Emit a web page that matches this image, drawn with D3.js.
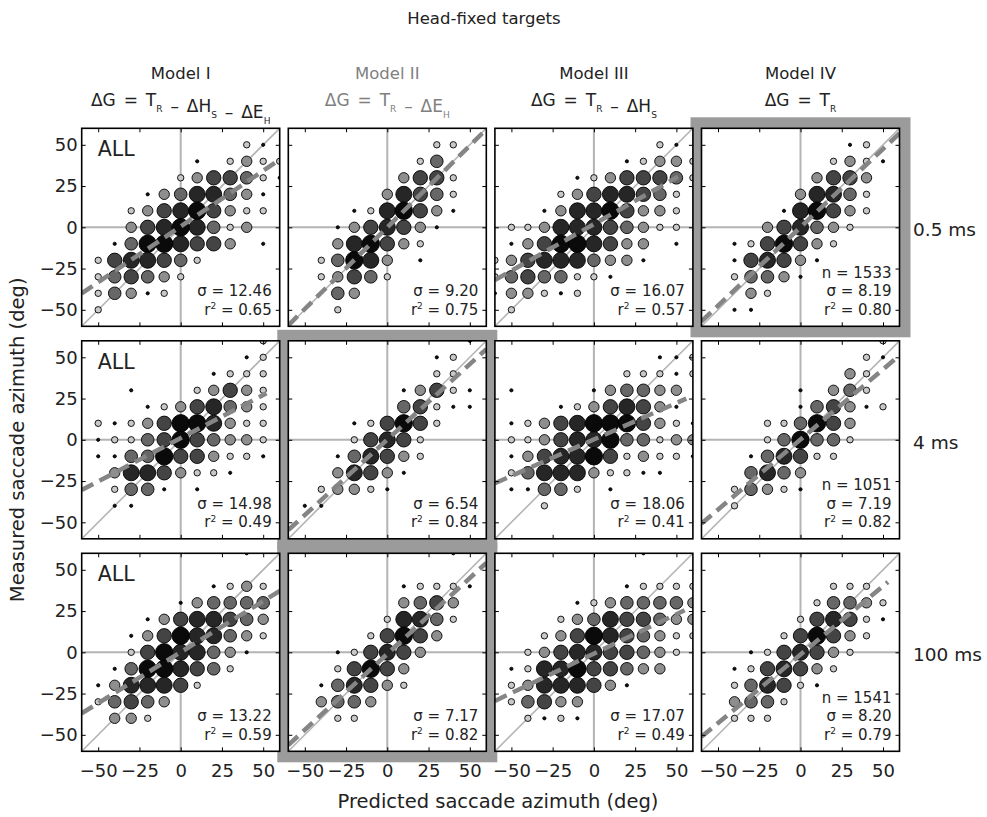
<!DOCTYPE html>
<html>
<head>
<meta charset="utf-8">
<script src="https://cdn.jsdelivr.net/npm/d3@7"></script>
<style>
  html, body { margin: 0; padding: 0; background: #fff; }
  svg { display: block; font-family: "DejaVu Sans", sans-serif; }
</style>
</head>
<body>
<svg id="chart" width="987" height="817"></svg>
<script>
// ---- data -------------------------------------------------------------
const modelNames = ["Model I", "Model II", "Model III", "Model IV"];
const delayLabels = ["0.5 ms", "4 ms", "100 ms"];
const tickValues = [-50, -25, 0, 25, 50];

const sigmaValues = [
  [12.46, 9.20, 16.07, 8.19],
  [14.98, 6.54, 18.06, 7.19],
  [13.22, 7.17, 17.07, 8.20]
];
const r2Values = [
  [0.65, 0.75, 0.57, 0.80],
  [0.49, 0.84, 0.41, 0.82],
  [0.59, 0.82, 0.49, 0.79]
];
const nValues = [1533, 1051, 1541];   // Model IV panels only

// regression fit (dashed): slope, intercept, x-range end
const fitSlopes = [
  [0.675, 0.99, 0.564, 0.95],
  [0.523, 0.914, 0.442, 0.85],
  [0.618, 0.92, 0.478, 0.83]
];
const fitIntercepts = [
  [0.5, 0.0, 1.9, 0.0],
  [1.0, 0.1, 0.2, 0.2],
  [0.1, -1.0, -0.8, -1.4]
];
const fitXEnd = [
  [60, 60, 51, 60],
  [52, 60, 56, 60],
  [60, 60, 55, 53]
];

// highlighted (best model) panels: [row, col]
const bestPanels = [[0, 3], [1, 1], [2, 1]];

// binned response density, 10 deg bins; rows are measured 60 .. -60,
// columns are predicted -60 .. 60; digit = density level (1 low .. 7 high)
const binCenters = d3.range(-60, 61, 10);

const density05 = [
  [ // Model I
    ".............", "..........21.", ".......1.2322", "......2355421",
    "....13466431.", "...235675322.", "...35676423..", "..14776553.1.",
    ".2566542.....", ".245432......", ".24312.......", ".2...........",
    "............."
  ],
  [ // Model II
    ".............", ".........22..", "........24...", ".......3552..",
    "......36542..", "....1267531..", "...1356531...", "...367532....",
    "..24763.1....", "..23542......", "...43........", "...2.........",
    "............."
  ],
  [ // Model III
    ".............", "..........21.", "........12332", ".....12355542",
    "....23566542.", "...136675332.", ".22366654322.", ".135776533.1.",
    "2356664331...", "24544221.....", "133212.......", ".2...........",
    "............."
  ],
  [ // Model IV
    ".............", ".........12..", "........2321.", ".......3553..",
    "......36642..", ".....167532..", "....356432...", "..1257532....",
    "..156531.....", "..24431......", "...32........", "..11.........",
    "............."
  ]
];

const density4 = [
  [
    "...........2.", "..........12.", "........1222.", "...1...23532.",
    "....12356432.", ".21235776322.", ".12245754332.", ".11447553221.",
    "..36653221...", "..2441.1.....", "..11.........", ".............",
    "............."
  ],
  [
    "...........1.", ".........12..", ".........22..", ".......13521.",
    ".......45211.", "....125752...", "....25652....", "...146532....",
    "...36531.....", "..23321......", ".11..........", ".............",
    "............."
  ],
  [
    ".............", "..........112", "........22212", ".1....134433.",
    "....12356531.", ".123567775321", ".223566744233", ".135667523221",
    ".2466632211..", ".11442.1.....", "...2.........", ".............",
    "............."
  ],
  [
    "...........2.", "..........21.", ".........32..", "......1.342..",
    "......145312.", "....224753...", "....247442...", "...146522....",
    "...4643......", "..24321......", "..2..........", ".............",
    "............."
  ]
];

const density100 = [
  [
    "..........1..", ".............", "........1232.", "......134444.",
    "....13566543.", "...135766432.", "...25766431..", "..14776542...",
    ".1366652.....", ".24543.......", "..332........", ".............",
    "............."
  ],
  [
    "..........1..", ".............", ".......12221.", ".......3453..",
    "......26642..", ".....25753...", "...125653....", "...25753.....",
    "..146532.....", "..3443.......", "...22........", ".............",
    "............."
  ],
  [
    ".........1...", ".............", "........12222", ".....12344443",
    "....234655433", "...2357654322", "..2356655432.", ".1266755433..",
    ".23666531....", ".24533.......", "..2121.......", ".............",
    "............."
  ],
  [
    ".............", ".............", "........222..", ".......24432.",
    "......256521.", ".....257532..", "...1256532...", "..1256532....",
    "..246521.....", "..3442.......", "..222........", ".............",
    "............."
  ]
];

const densityByDelay = [density05, density4, density100];

// ---- layout -----------------------------------------------------------
const svg = d3.select("#chart");
const panelW = 198, panelH = 198;
const left0 = 81.7, colStep = 206.6;
const top0 = 128.3, rowStep = 212.5;
const FONT = "'DejaVu Sans', sans-serif";
const INK = "#222";

const x = d3.scaleLinear().domain([-60, 60]).range([0, panelW]);
const y = d3.scaleLinear().domain([-60, 60]).range([panelH, 0]);

const levels = [1, 2, 3, 4, 5, 6, 7];
const radius = d3.scaleLinear().domain(levels).range([1.6, 3.2, 5.2, 6.3, 7.2, 8.0, 8.7]);
const shade = d3.scaleLinear().domain(levels)
  .range(["#111", "#c8c8c8", "#8e8e8e", "#676767", "#444", "#262626", "#0a0a0a"]);

// highlight frames go underneath the panels
bestPanels.forEach(([r, c]) => {
  const px = left0 + c * colStep, py = top0 + r * rowStep;
  svg.append("rect")
    .attr("x", px - 5.5).attr("y", py - 5.5)
    .attr("width", panelW + 11).attr("height", panelH + 11)
    .attr("fill", "none").attr("stroke", "#9b9b9b").attr("stroke-width", 11);
});

const defs = svg.append("defs");
defs.append("clipPath").attr("id", "panel-clip")
  .append("rect").attr("width", panelW).attr("height", panelH);

for (let r = 0; r < 3; r++) {
  for (let c = 0; c < 4; c++) {
    const g = svg.append("g")
      .attr("transform", `translate(${left0 + c * colStep},${top0 + r * rowStep})`);

    g.append("rect").attr("width", panelW).attr("height", panelH).attr("fill", "#fff");

    const inner = g.append("g").attr("clip-path", "url(#panel-clip)");

    // zero lines and unity line
    inner.append("line")
      .attr("x1", x(0)).attr("x2", x(0)).attr("y1", 0).attr("y2", panelH)
      .attr("stroke", "#b4b4b4").attr("stroke-width", 2);
    inner.append("line")
      .attr("x1", 0).attr("x2", panelW).attr("y1", y(0)).attr("y2", y(0))
      .attr("stroke", "#b4b4b4").attr("stroke-width", 2);
    inner.append("line")
      .attr("x1", x(-60)).attr("y1", y(-60)).attr("x2", x(60)).attr("y2", y(60))
      .attr("stroke", "#b4b4b4").attr("stroke-width", 1.6);

    // bubbles
    const grid = densityByDelay[r][c];
    const cells = [];
    grid.forEach((row, i) => {
      const yv = binCenters[binCenters.length - 1 - i];
      row.split("").forEach((ch, j) => {
        if (ch !== ".") cells.push({ px: binCenters[j], py: yv, level: +ch });
      });
    });
    inner.selectAll("circle").data(cells).join("circle")
      .attr("cx", d => x(d.px)).attr("cy", d => y(d.py))
      .attr("r", d => radius(d.level))
      .attr("fill", d => shade(d.level))
      .attr("stroke", "#000").attr("stroke-width", 0.9);

    // regression fit
    const s = fitSlopes[r][c], b = fitIntercepts[r][c];
    const fx = [-60, fitXEnd[r][c]];
    inner.append("line")
      .attr("x1", x(fx[0])).attr("y1", y(s * fx[0] + b))
      .attr("x2", x(fx[1])).attr("y2", y(s * fx[1] + b))
      .attr("stroke", "#858585").attr("stroke-width", 4.5)
      .attr("stroke-dasharray", "13,7");

    // inward ticks on all four sides
    const axes = [
      d3.axisLeft(y).tickSizeInner(-4),
      d3.axisRight(y).tickSizeInner(-4),
      d3.axisBottom(x).tickSizeInner(-4),
      d3.axisTop(x).tickSizeInner(-4)
    ];
    const offs = ["translate(0,0)", `translate(${panelW},0)`, `translate(0,${panelH})`, "translate(0,0)"];
    axes.forEach((ax, k) => {
      const showLabels = (k === 0 && c === 0) || (k === 2 && r === 2);
      const pad = k === 2 ? 13 : 4;
      ax.tickValues(tickValues).tickSizeOuter(0).tickPadding(showLabels ? pad : 0)
        .tickFormat(showLabels ? d3.format("d") : "");
      const ag = g.append("g").attr("transform", offs[k]).call(ax);
      ag.select(".domain").remove();
      ag.selectAll("line").attr("stroke", "#000").attr("stroke-width", 1);
      ag.selectAll("text").attr("font-family", FONT).attr("font-size", 18).attr("fill", INK);
    });

    // frame
    g.append("rect").attr("width", panelW).attr("height", panelH)
      .attr("fill", "none").attr("stroke", "#000").attr("stroke-width", 1.6);

    // statistics
    const stats = [];
    if (c === 3) stats.push(`n = ${nValues[r]}`);
    stats.push(`σ = ${sigmaValues[r][c].toFixed(2)}`);
    stats.push("r2");
    const lineH = 18.6;
    stats.forEach((t, k) => {
      const yy = panelH - 11.5 - (stats.length - 1 - k) * lineH;
      const tx = g.append("text").attr("x", panelW - 8).attr("y", yy)
        .attr("text-anchor", "end").attr("font-family", FONT)
        .attr("font-size", 15).attr("fill", INK);
      if (t === "r2") {
        tx.append("tspan").text("r");
        tx.append("tspan").text("2").attr("font-size", 9).attr("dy", -5.5);
        tx.append("tspan").text(` = ${r2Values[r][c].toFixed(2)}`).attr("dy", 5.5);
      } else {
        tx.text(t);
      }
    });

    if (c === 0) {
      g.append("text").attr("x", 16).attr("y", 28)
        .attr("font-family", FONT).attr("font-size", 20.5).attr("fill", INK)
        .text("ALL");
    }
  }
}

// ---- headers ----------------------------------------------------------
svg.append("text").attr("x", 484).attr("y", 24).attr("text-anchor", "middle")
  .attr("font-family", FONT).attr("font-size", 16.5).attr("fill", INK)
  .text("Head-fixed targets");

// formula pieces: [text, subscript]
const formulas = [
  [["ΔG = T", "R"], [" – ΔH", "S"], [" – ΔE", "H"]],
  [["ΔG = T", "R"], [" – ΔE", "H"]],
  [["ΔG = T", "R"], [" – ΔH", "S"]],
  [["ΔG = T", "R"]]
];
const headerColors = [INK, "#808080", INK, INK];

modelNames.forEach((name, c) => {
  const cx = left0 + c * colStep + panelW / 2;
  svg.append("text").attr("x", cx).attr("y", 79).attr("text-anchor", "middle")
    .attr("font-family", FONT).attr("font-size", 16.5).attr("fill", headerColors[c])
    .text(name);
  const t = svg.append("text").attr("x", cx).attr("y", 106).attr("text-anchor", "middle")
    .attr("font-family", FONT).attr("font-size", 17).attr("fill", headerColors[c])
    .attr("word-spacing", 2.5);
  formulas[c].forEach(([main, sub]) => {
    t.append("tspan").text(main);
    t.append("tspan").text(sub).attr("font-size", 9).attr("dy", 6);
    t.append("tspan").text("").attr("dy", -6);
  });
});

// delay labels on the right
delayLabels.forEach((lab, r) => {
  svg.append("text").attr("x", 913).attr("y", top0 + r * rowStep + panelH / 2 + 9)
    .attr("font-family", FONT).attr("font-size", 18.5).attr("fill", INK)
    .text(lab);
});

// axis titles
svg.append("text").attr("x", 498).attr("y", 808).attr("text-anchor", "middle")
  .attr("font-family", FONT).attr("font-size", 19.5).attr("fill", INK)
  .text("Predicted saccade azimuth (deg)");
svg.append("text")
  .attr("transform", `translate(24,${top0 + rowStep + panelH / 2}) rotate(-90)`)
  .attr("text-anchor", "middle")
  .attr("font-family", FONT).attr("font-size", 19.5).attr("fill", INK)
  .text("Measured saccade azimuth (deg)");
</script>
</body>
</html>
